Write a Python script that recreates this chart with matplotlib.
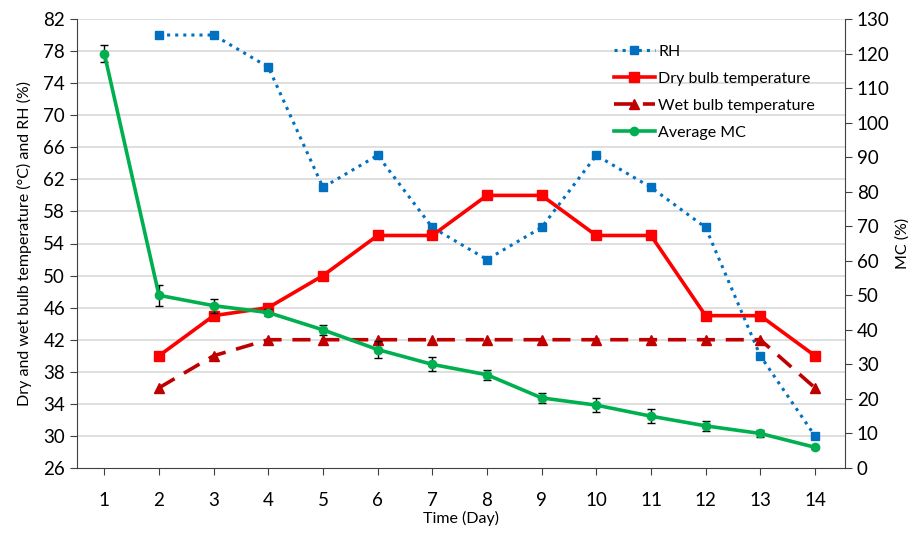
import numpy as np
import matplotlib.pyplot as plt

plt.rcParams['font.family'] = ['Lato', 'DejaVu Sans']

# %% Data.
days = list(range(1, 15))
days_t = list(range(2, 15))
rh = [80, 80, 76, 61, 65, 56, 52, 56, 65, 61, 56, 40, 30]
dry_bulb = [40, 45, 46, 50, 55, 55, 60, 60, 55, 55, 45, 45, 40]
wet_bulb = [36, 40, 42, 42, 42, 42, 42, 42, 42, 42, 42, 42, 36]
mc = [120, 50, 47, 45, 40, 34.3, 30, 27, 20.3, 18.2, 15, 12.2, 10, 6]
mc_err = [2.5, 3, 2, 1, 1.5, 2.5, 2, 1.5, 1.5, 2, 2, 1.5, 1, 0.5]

# %% Plotting.
fig = plt.figure(figsize=(9.09, 5.34), dpi=100)
ax = fig.add_axes([77 / 909, 66 / 534, (845 - 77) / 909, (468 - 19) / 534])
ax2 = ax.twinx()

ax.set_ylim(26, 82)
ax.set_yticks(np.arange(26, 83, 4))
ax2.set_ylim(0, 130)
ax2.set_yticks(np.arange(0, 131, 10))
ax.set_xlim(0.5, 14.55)
ax.set_xticks(days)

# Grid lines.
for yv in np.arange(30, 83, 4):
    ax.axhline(yv, color='#d9d9d9', linewidth=1.2, zorder=0)

l_rh, = ax.plot(days_t, rh, color='#0070c0', linestyle=':', linewidth=2.2,
                marker='s', markersize=6, label='RH', zorder=3)
l_dry, = ax.plot(days_t, dry_bulb, color='#ff0000', linewidth=2.6,
                 marker='s', markersize=7, label='Dry bulb temperature', zorder=3)
l_wet, = ax.plot(days_t, wet_bulb, color='#c00000', linestyle=(0, (5, 3)), linewidth=2.6,
                 marker='^', markersize=7, label='Wet bulb temperature', zorder=3)

ax2.errorbar(days, mc, yerr=mc_err, fmt='none', ecolor='black', elinewidth=1,
             capsize=3, capthick=1, zorder=2)
l_mc, = ax2.plot(days, mc, color='#00b050', linewidth=2.6, marker='o', markersize=6,
                 label='Average MC', zorder=4)

# Axes styling.
for axa in [ax, ax2]:
    axa.spines['top'].set_visible(False)
    axa.spines['left'].set_color('#404040')
    axa.spines['right'].set_color('#404040')
    axa.spines['bottom'].set_color('#404040')
ax.spines['right'].set_visible(False)
ax2.spines['left'].set_visible(False)
ax2.spines['bottom'].set_visible(False)
ax.tick_params(axis='y', labelsize=13.5, direction='out', length=5, color='#404040')
ax.tick_params(axis='x', labelsize=13.5, direction='out', length=5, pad=12, color='#404040')
ax2.tick_params(axis='y', labelsize=13.5, direction='out', length=5, color='#404040')

ax.set_xlabel('Time (Day)', fontsize=11.5, labelpad=2)
ax.set_ylabel('Dry and wet bulb temperature (°C) and RH (%)', fontsize=11.5, labelpad=8)
ax2.set_ylabel('MC (%)', fontsize=11.5)

ax2.legend([l_rh, l_dry, l_wet, l_mc], [l.get_label() for l in [l_rh, l_dry, l_wet, l_mc]],
           loc='upper left', bbox_to_anchor=(0.68, 0.975), frameon=False, fontsize=11.5,
           handlelength=2.6, handletextpad=0.2, labelspacing=0.8)

fig.savefig('out.png', dpi=100)
